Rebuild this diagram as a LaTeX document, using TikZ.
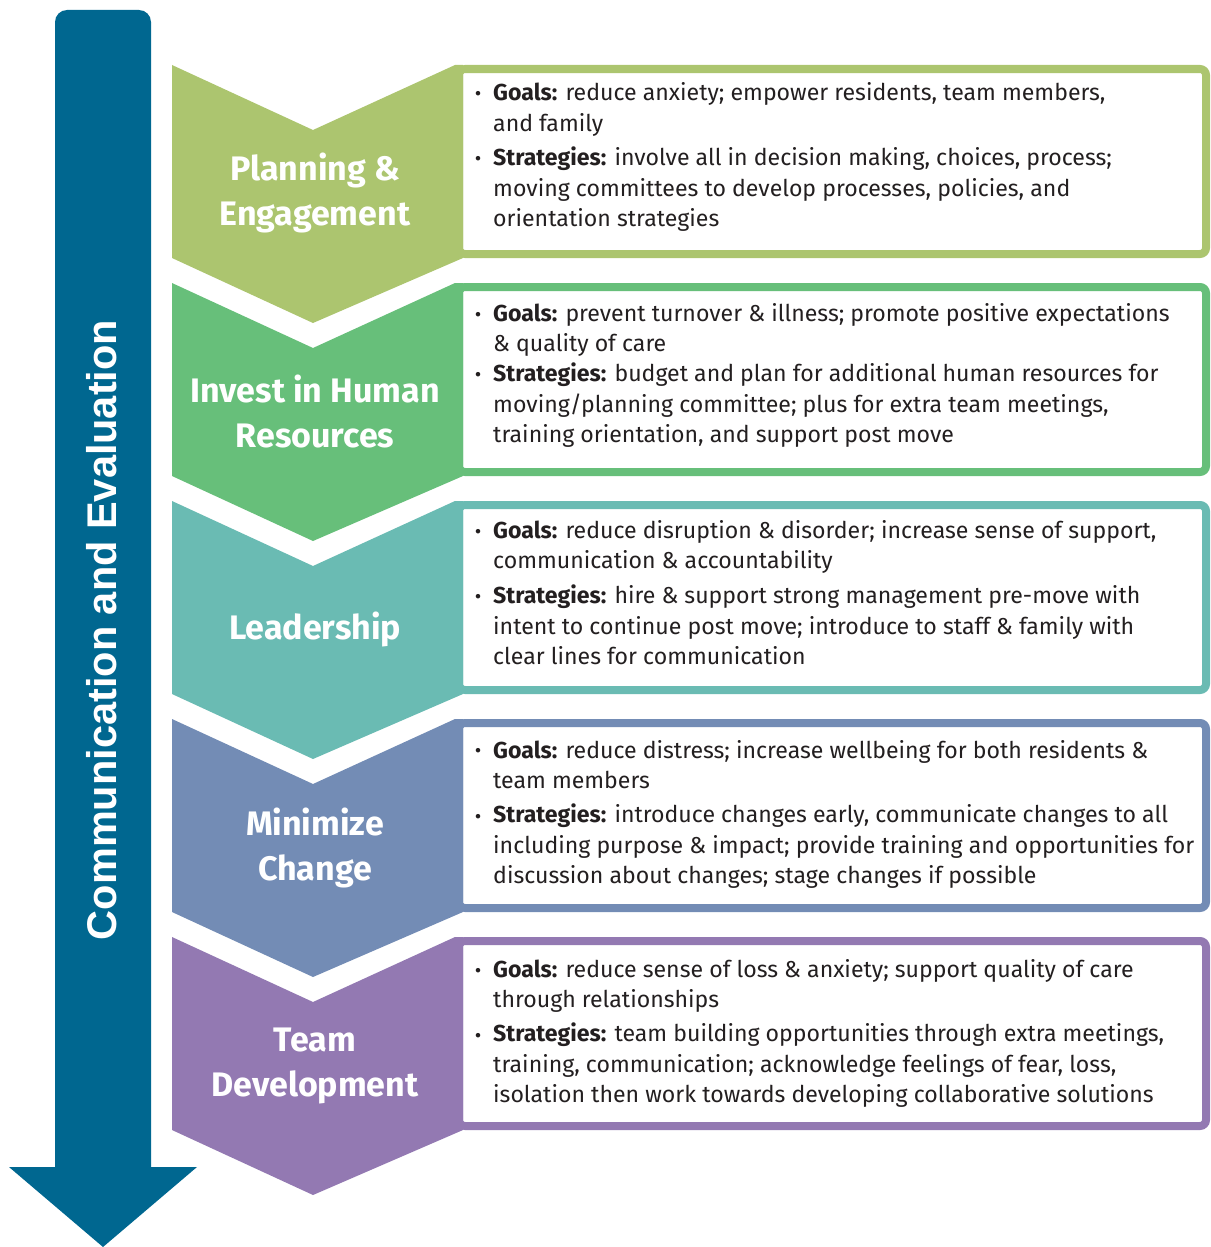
\documentclass[tikz,border=0pt]{standalone}
\usepackage{fontspec}
\setmainfont{Fira Sans}
\newfontfamily\arrowfont{Liberation Sans Bold}
\usetikzlibrary{calc}
\definecolor{arrowblue}{RGB}{0,103,144}
\definecolor{colA}{RGB}{172,197,111}
\definecolor{colB}{RGB}{103,191,122}
\definecolor{colC}{RGB}{106,187,179}
\definecolor{colD}{RGB}{115,140,181}
\definecolor{colE}{RGB}{147,121,178}
\definecolor{inktext}{RGB}{35,31,32}

\begin{document}
\begin{tikzpicture}[x=1pt,y=-1pt,
    title/.style={text=white,font=\fontsize{34}{45}\selectfont\bfseries,align=center,inner sep=0pt},
    bodytext/.style={text=inktext,font=\fontsize{23.1}{30.5}\selectfont,align=left,anchor=base west,inner sep=0pt},
    dot/.style={text=inktext,font=\fontsize{20}{30.5}\selectfont,anchor=base,inner sep=0pt}]
    \useasboundingbox (0,0) rectangle (1210,1247);
    % arrow on the left
    \fill[arrowblue,rounded corners=12] (55,10) rectangle (151,1180);
    \fill[arrowblue] (9,1167) -- (197,1167) -- (103,1247) -- cycle;
    \node[rotate=90,text=white,font=\arrowfont\fontsize{41.5}{42}\selectfont,inner sep=0pt] (ce) at (102,630) {Communication and Evaluation};
    % five blocks
    \foreach \t/\c in {65/colA,283/colB,501/colC,719/colD,937/colE}{
        \draw[\c,fill=white,line width=8pt,rounded corners=6] (459,\t+4) rectangle (1206,\t+189);
        \fill[\c] (172,\t) -- (313,\t+65) -- (455,\t) -- (463,\t) -- (463,\t+193) -- (313,\t+258) -- (172,\t+193) -- cycle;
    }
    \node[title] (t1) at (315,193) {Planning \&\\Engagement};
    \node[title] (t2) at (315,411) {Invest in Human\\Resources};
    \node[title] (t3) at (315,629) {Leadership};
    \node[title] (t4) at (315,848) {Minimize\\Change};
    \node[title] (t5) at (315,1066) {Team\\Development};
    % bullets and texts (nodes sit on their last baseline)
    \node[dot] (d1a) at (478,100.5) {\textbullet};
    \node[bodytext] (g1) at (493,131) {\textbf{Goals:} reduce anxiety; empower residents, team members,\\and family};
    \node[dot] (d1b) at (478,165.5) {\textbullet};
    \node[bodytext] (s1) at (493,226.5) {\textbf{Strategies:} involve all in decision making, choices, process;\\moving committees to develop processes, policies, and\\orientation strategies};
    \node[dot] (d2a) at (478,321.5) {\textbullet};
    \node[bodytext] (g2) at (493,351.5) {\textbf{Goals:} prevent turnover \& illness; promote positive expectations\\\& quality of care};
    \node[dot] (d2b) at (478,381.5) {\textbullet};
    \node[bodytext] (s2) at (493,442.5) {\textbf{Strategies:} budget and plan for additional human resources for\\moving/planning committee; plus for extra team meetings,\\training orientation, and support post move};
    \node[dot] (d3a) at (478,538.5) {\textbullet};
    \node[bodytext] (g3) at (493,568.5) {\textbf{Goals:} reduce disruption \& disorder; increase sense of support,\\communication \& accountability};
    \node[dot] (d3b) at (478,603.5) {\textbullet};
    \node[bodytext] (s3) at (493,664.5) {\textbf{Strategies:} hire \& support strong management pre-move with\\intent to continue post move; introduce to staff \& family with\\clear lines for communication};
    \node[dot] (d4a) at (478,757.5) {\textbullet};
    \node[bodytext] (g4) at (493,788.5) {\textbf{Goals:} reduce distress; increase wellbeing for both residents \&\\team members};
    \node[dot] (d4b) at (478,823.5) {\textbullet};
    \node[bodytext] (s4) at (493,883.5) {\textbf{Strategies:} introduce changes early, communicate changes to all\\including purpose \& impact; provide training and opportunities for\\discussion about changes; stage changes if possible};
    \node[dot] (d5a) at (478,977.5) {\textbullet};
    \node[bodytext] (g5) at (493,1007.5) {\textbf{Goals:} reduce sense of loss \& anxiety; support quality of care\\through relationships};
    \node[dot] (d5b) at (478,1042.5) {\textbullet};
    \node[bodytext] (s5) at (493,1102.5) {\textbf{Strategies:} team building opportunities through extra meetings,\\training, communication; acknowledge feelings of fear, loss,\\isolation then work towards developing collaborative solutions};
\end{tikzpicture}
\end{document}
